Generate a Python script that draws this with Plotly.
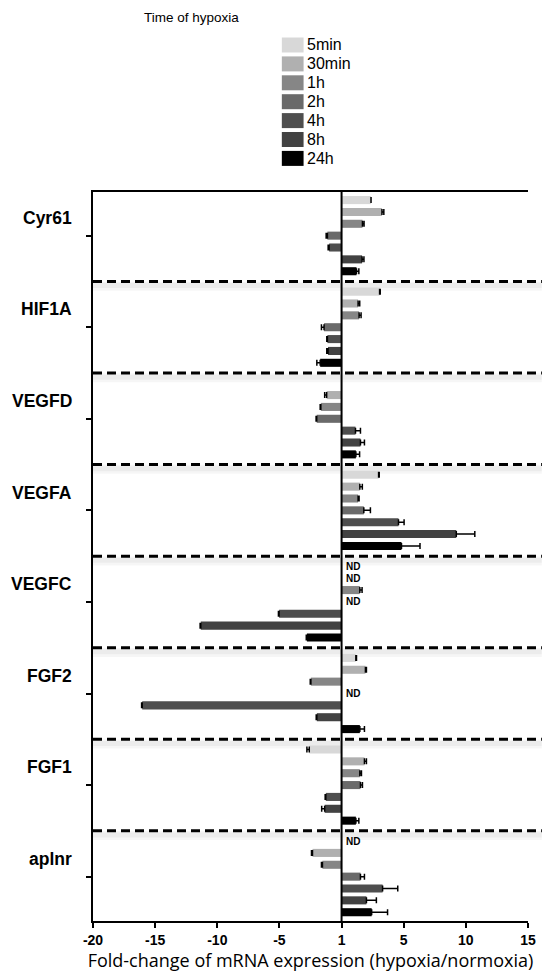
import plotly.graph_objects as go

# ---- data ----
genes = ["Cyr61", "HIF1A", "VEGFD", "VEGFA", "VEGFC", "FGF2", "FGF1", "aplnr"]
times = ["5min", "30min", "1h", "2h", "4h", "8h", "24h"]
colors = ["#d8d8d8", "#b0b0b0", "#868686", "#6a6a6a", "#4e4e4e", "#424242", "#000000"]

# fold-change per time point, one entry per gene (None = no bar)
fc_5min = [2.37, 3.06, None, 2.98, None, 1.15, -2.6, None]
fc_30min = [3.25, 1.33, -1.2, 1.47, None, 1.92, 1.84, -2.34]
fc_1h = [1.68, 1.41, -1.67, 1.33, 1.47, -2.47, 1.47, -1.54]
fc_2h = [-1.14, -1.41, -2.0, 1.79, None, None, 1.52, 1.52]
fc_4h = [-1.0, -1.14, 1.12, 4.58, -5.03, -16.04, -1.27, 3.3]
fc_8h = [1.65, -1.09, 1.52, 9.23, -11.33, -1.99, -1.36, 2.0]
fc_24h = [1.2, -1.72, 1.15, 4.82, -2.79, 1.47, 1.15, 2.42]

# SEM per time point
sem_5min = [0.0, 0.05, 0, 0.05, 0, 0.05, 0.19, 0]
sem_30min = [0.15, 0.13, 0.16, 0.2, 0, 0.08, 0.16, 0.08]
sem_1h = [0.13, 0.16, 0.05, 0.08, 0.18, 0.05, 0.13, 0.08]
sem_2h = [0.1, 0.21, 0.05, 0.53, 0, 0, 0.16, 0.32]
sem_4h = [0.08, 0.05, 0.4, 0.45, 0.05, 0.05, 0.05, 1.22]
sem_8h = [0.15, 0.1, 0.32, 1.49, 0.05, 0.05, 0.24, 0.8]
sem_24h = [0.19, 0.27, 0.3, 1.49, 0.05, 0.37, 0.24, 1.28]

# not detected (gene, time)
not_detected = [("VEGFC", "5min"), ("VEGFC", "30min"), ("VEGFC", "2h"),
                ("FGF2", "2h"), ("aplnr", "5min")]

x_ticks = [-20, -15, -10, -5, 0, 5, 10, 15]
x_ticktext = ["-20", "-15", "-10", "-5", "1", "5", "10", "15"]

series = [fc_5min, fc_30min, fc_1h, fc_2h, fc_4h, fc_8h, fc_24h]
errors = [sem_5min, sem_30min, sem_1h, sem_2h, sem_4h, sem_8h, sem_24h]

# ---- layout geometry ----
W, H = 548, 978
ML, MR, MT, MB = 93, 15, 192, 57
PW, PH = W - ML - MR, H - MT - MB
GROUP = 7.72          # slots per gene block (7 bars + gap)
Y_TOP, Y_BOT = -0.68, (len(genes) - 1) * GROUP + 6 + 0.74


def slot(g, t):
    return g * GROUP + t


def px_x(p):
    return (p - ML) / PW


def px_y(p):
    return (MT + PH - p) / PH


FONT = "Liberation Sans, Arial, sans-serif"

fig = go.Figure()
for t, (name, col, vals, errs) in enumerate(zip(times, colors, series, errors)):
    ys, xs, plus, minus = [], [], [], []
    for g, (v, e) in enumerate(zip(vals, errs)):
        if v is None:
            continue
        ys.append(slot(g, t))
        xs.append(v)
        plus.append(e if v > 0 else 0)
        minus.append(e if v < 0 else 0)
    fig.add_trace(go.Bar(
        x=xs, y=ys, orientation="h", name=name, width=0.68,
        marker=dict(color=col, line=dict(width=0)),
        error_x=dict(type="data", array=plus, arrayminus=minus, symmetric=False,
                     color="black", thickness=1.5, width=3),
        showlegend=False,
    ))

shapes = []
# dashed separators with a soft shadow
for g in range(len(genes) - 1):
    yv = g * GROUP + 6 + (GROUP - 6) / 2
    for dy, w, a in [(0.4, 9, 0.035), (0.35, 5, 0.04)]:
        shapes.append(dict(type="line", xref="paper", yref="y", x0=0, x1=px_x(547),
                           y0=yv + dy, y1=yv + dy, layer="below",
                           line=dict(color=f"rgba(0,0,0,{a})", width=w)))
    shapes.append(dict(type="line", xref="paper", yref="y", x0=0, x1=px_x(547),
                       y0=yv, y1=yv, layer="above",
                       line=dict(color="black", width=3, dash="9px,5px")))
# baseline at fold-change 1
shapes.append(dict(type="line", xref="x", yref="paper", x0=0, x1=0, y0=0, y1=1,
                   layer="above", line=dict(color="black", width=2)))

# manual legend
for i, (name, col) in enumerate(zip(times, colors)):
    cy = 45 + i * 18.9
    shapes.append(dict(type="rect", xref="paper", yref="paper",
                       x0=px_x(284), x1=px_x(306), y0=px_y(cy + 7.5), y1=px_y(cy - 7.5),
                       fillcolor=col, line=dict(width=0)))

annotations = [dict(text="Time of hypoxia", xref="paper", yref="paper",
                    x=px_x(243), y=px_y(18), xanchor="right", yanchor="middle",
                    showarrow=False, font=dict(family=FONT, size=13.5, color="black"))]
for i, name in enumerate(times):
    annotations.append(dict(text=name, xref="paper", yref="paper",
                            x=px_x(307), y=px_y(45 + i * 18.9), xanchor="left",
                            yanchor="middle", showarrow=False,
                            font=dict(family=FONT, size=16, color="black")))
for g, gene in enumerate(genes):
    annotations.append(dict(text=gene, xref="paper", yref="y",
                            x=px_x(74), y=slot(g, 1.5), xanchor="right",
                            yanchor="middle", showarrow=False,
                            font=dict(family=FONT, size=17.5, color="black", weight="bold")))
for gene, tm in not_detected:
    annotations.append(dict(text="ND", xref="x", yref="y",
                            x=0, y=slot(genes.index(gene), times.index(tm)),
                            xanchor="left", yanchor="middle", xshift=2, showarrow=False,
                            font=dict(family=FONT, size=10, color="black", weight="bold")))

fig.update_layout(
    width=W, height=H,
    margin=dict(l=ML, r=MR, t=MT, b=MB),
    plot_bgcolor="white", paper_bgcolor="white",
    barmode="overlay",
    showlegend=False,
    hovermode=False,
    shapes=shapes,
    annotations=annotations,
    xaxis=dict(
        range=[-20, 15], tickvals=x_ticks, ticktext=x_ticktext,
        showgrid=False, zeroline=False,
        showline=True, linecolor="black", linewidth=2, mirror=True,
        ticks="outside", ticklen=5, tickwidth=2, tickcolor="black",
        tickfont=dict(family=FONT, size=14, color="black", weight="bold"),
        title=dict(text="Fold-change of mRNA expression (hypoxia/normoxia)",
                   font=dict(family="Open Sans, sans-serif", size=18, color="black"),
                   standoff=0),
    ),
    yaxis=dict(
        range=[Y_BOT, Y_TOP],
        tickvals=[slot(g, 3) for g in range(len(genes))],
        ticktext=["" for _ in genes],
        showgrid=False, zeroline=False,
        showline=True, linecolor="black", linewidth=2,
        ticks="outside", ticklen=5, tickwidth=2, tickcolor="black",
    ),
)

# page body has a default 8px margin; drop it so the figure sits at the window origin
fig.write_html("out.html", config={"displayModeBar": False},
               post_script="document.body.style.margin='0px';")
